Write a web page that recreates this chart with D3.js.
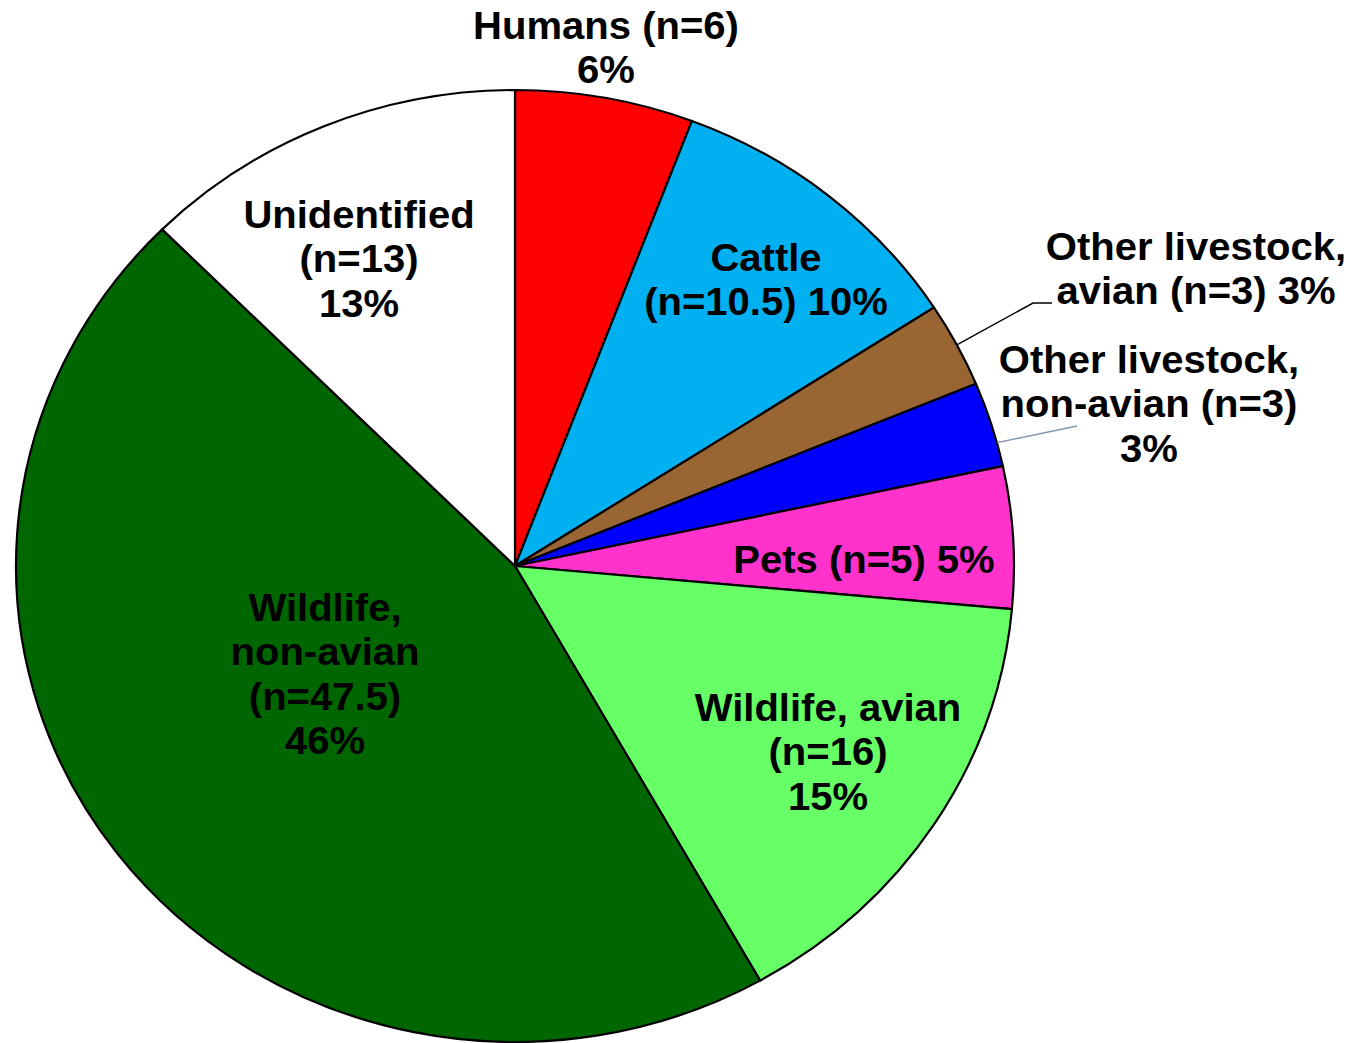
<!DOCTYPE html>
<html>
<head>
<meta charset="utf-8">
<script src="https://cdn.jsdelivr.net/npm/d3@7"></script>
<style>
  html, body { margin: 0; padding: 0; background: #fff; }
  svg { display: block; }
  text { font-family: "Liberation Sans", Arial, sans-serif; font-weight: bold; fill: #000; }
</style>
</head>
<body>
<svg id="chart" width="1349" height="1043"></svg>
<script>
// ---- data ----
const categories = ["Humans", "Cattle", "Other livestock, avian", "Other livestock, non-avian",
                    "Pets", "Wildlife, avian", "Wildlife, non-avian", "Unidentified"];
const counts = [6, 10.5, 3, 3, 5, 16, 47.5, 13];
const percentLabels = ["6%", "10%", "3%", "3%", "5%", "15%", "46%", "13%"];
const labelLines = [
  ["Humans (n=6)", "6%"],
  ["Cattle", "(n=10.5) 10%"],
  ["Other livestock,", "avian (n=3) 3%"],
  ["Other livestock,", "non-avian (n=3)", "3%"],
  ["Pets (n=5) 5%"],
  ["Wildlife, avian", "(n=16)", "15%"],
  ["Wildlife,", "non-avian", "(n=47.5)", "46%"],
  ["Unidentified", "(n=13)", "13%"]
];
const sliceColors = ["#FF0000", "#00B0F0", "#996633", "#0000FF", "#FF33CC", "#66FF66", "#006600", "#FFFFFF"];

// ---- layout ----
const cx = 515, cy = 566, rx = 499, ry = 476;
const fontSize = 38.5, lineH = 44.5, textStretch = 1.04;
// label anchor: center x, first baseline y
const labelPos = [
  [606, 39], [766, 271], [1196, 260], [1149, 373],
  [864, 573], [828, 721], [325, 621], [359, 228]
];
// leader lines: [slice index, fraction within slice, elbow x, elbow y, end x, end y, color]
const leaders = [
  [2, 0.5, 1033, 303, 1052, 303, "#000000"],
  [3, 0.72, 1077, 426, 1077, 426, "#8496B0"]
];

const svg = d3.select("#chart");

const pie = d3.pie().sort(null).value(d => d)
  .startAngle(0).endAngle(2 * Math.PI);
const arcs = pie(counts);
const arc = d3.arc().innerRadius(0).outerRadius(ry);

const g = svg.append("g")
  .attr("transform", `translate(${cx},${cy}) scale(${rx / ry},1)`);

g.selectAll("path")
  .data(arcs)
  .join("path")
  .attr("d", arc)
  .attr("fill", (d, i) => sliceColors[i])
  .attr("stroke", "#000")
  .attr("stroke-width", 2.2)
  .attr("stroke-linejoin", "round")
  .attr("vector-effect", "non-scaling-stroke");

// leader lines
leaders.forEach(([idx, frac, ex, ey, fx, fy, col]) => {
  const a = arcs[idx];
  const ang = a.startAngle + (a.endAngle - a.startAngle) * frac;
  const sx = cx + rx * Math.sin(ang);
  const sy = cy - ry * Math.cos(ang);
  svg.append("polyline")
    .attr("points", `${sx},${sy} ${ex},${ey} ${fx},${fy}`)
    .attr("fill", "none")
    .attr("stroke", col)
    .attr("stroke-width", 1.5);
});

// labels
const labels = svg.append("g");
labelLines.forEach((lines, i) => {
  const [x, y] = labelPos[i];
  const t = labels.append("g")
    .attr("transform", `translate(${x},0) scale(${textStretch},1)`)
    .append("text")
    .attr("text-anchor", "middle")
    .attr("font-size", fontSize);
  lines.forEach((ln, j) => {
    t.append("tspan").attr("x", 0).attr("y", y + j * lineH).text(ln);
  });
});
</script>
</body>
</html>
